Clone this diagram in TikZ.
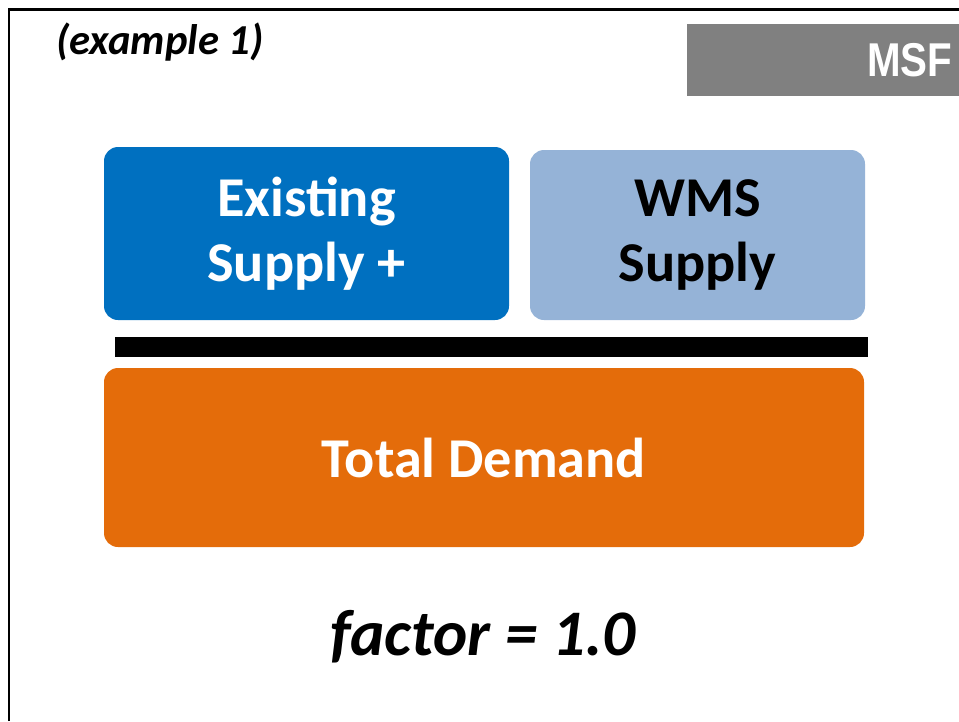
\documentclass[tikz,border=0pt]{standalone}
\usepackage{fontspec}
\setmainfont{Carlito}
\newfontfamily\arialfont{Liberation Sans}
\usepackage{tikz}
\usetikzlibrary{positioning}
\usepackage{xcolor}
\definecolor{supplyblue}{HTML}{0070C0}
\definecolor{wmsblue}{HTML}{95B3D7}
\definecolor{demandorange}{HTML}{E46C0A}
\definecolor{msfgray}{HTML}{808080}

\begin{document}
\begin{tikzpicture}[
  box/.style={rounded corners=0.28cm, inner sep=0pt, align=center,
              font=\fontsize{32}{37}\selectfont\bfseries}]
  \useasboundingbox (0,0) rectangle (19.18,-14.42);
  % Frame (left and top edges only)
  \draw[line width=1.7pt] (0.18,-14.42) -- (0.18,-0.18) -- (19.18,-0.18);
  % Header
  \node (ex) at (3.2,-0.84) {\fontsize{24.3}{27}\selectfont\bfseries\itshape (example 1)};
  \node[fill=msfgray, minimum width=5.44cm, minimum height=1.44cm, inner sep=0pt] (msf) at (16.46,-1.2) {};
  \node[anchor=east, text=white, inner sep=0pt] (msflbl) at (19.05,-1.2) {\scalebox{0.85}[1]{\arialfont\fontsize{27}{30}\selectfont\bfseries MSF}};
  % Supply boxes
  \node[box, fill=supplyblue, text=white, minimum width=8.1cm, minimum height=3.46cm] (exist) at (6.13,-4.67) {Existing\\Supply +};
  \node[box, fill=wmsblue, text=black, minimum width=6.7cm, minimum height=3.4cm] (wms) at (13.95,-4.70) {WMS\\Supply};
  % Balance bar
  \node[fill=black, minimum width=15.06cm, minimum height=0.4cm, inner sep=0pt] (bar) at (9.83,-6.94) {};
  % Demand box
  \node[box, fill=demandorange, text=white, minimum width=15.2cm, minimum height=3.58cm] (demand) at (9.68,-9.15) {Total Demand};
  % Result
  \node (factor) at (9.66,-12.74) {\fontsize{37}{41}\selectfont\bfseries\itshape factor = 1.0};
\end{tikzpicture}
\end{document}
